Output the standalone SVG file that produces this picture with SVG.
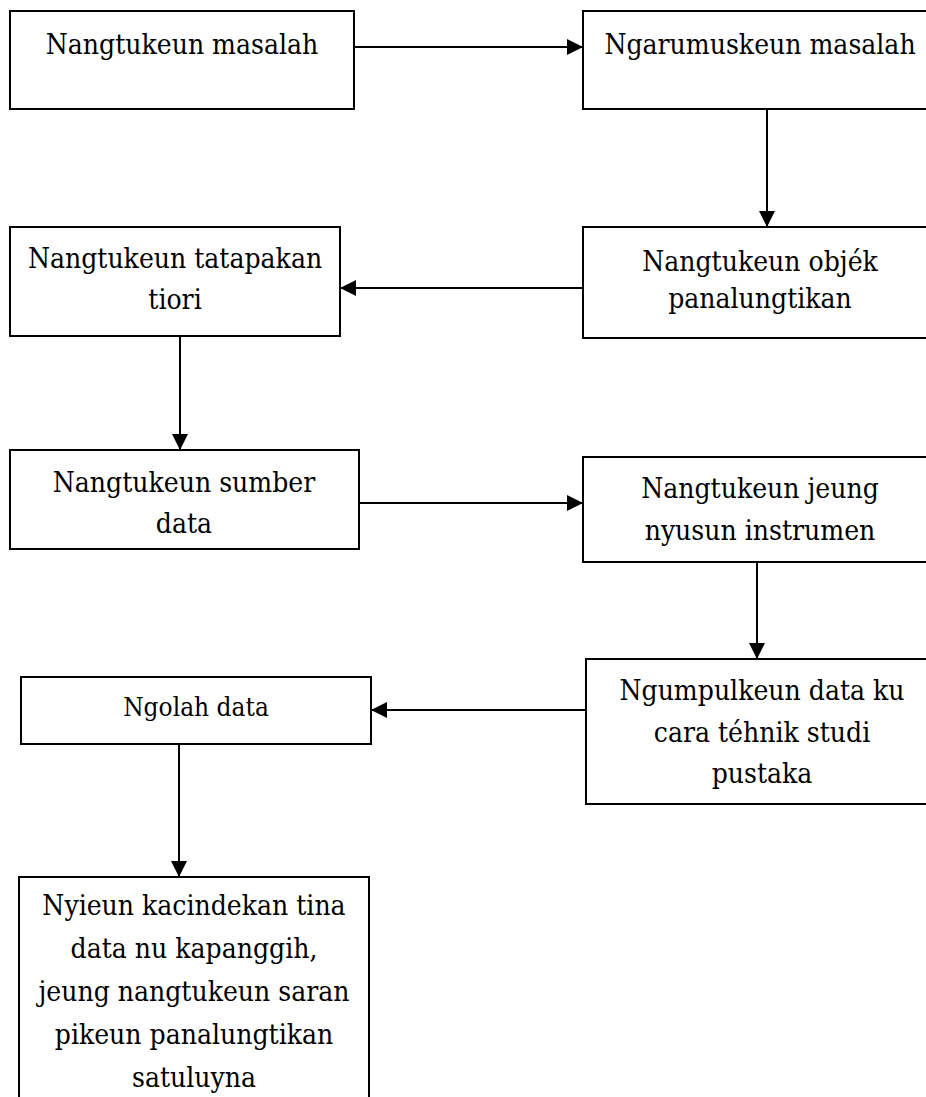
<svg xmlns="http://www.w3.org/2000/svg" width="926" height="1097" viewBox="0 0 926 1097">
<style>
.box{fill:#fff;stroke:#000;stroke-width:2}
text{font-family:'DejaVu Serif',serif;font-stretch:condensed;font-size:28px;fill:#000;text-anchor:middle}
text.s{font-size:26px}
.c{fill:none;stroke:#000;stroke-width:2}
</style>
<defs>
<marker id="ah" markerUnits="userSpaceOnUse" markerWidth="18" markerHeight="18" refX="16" refY="8" orient="auto">
<path d="M0,0 L16,8 L0,16 z" fill="#000"/>
</marker>
</defs>
<rect width="926" height="1097" fill="#fff"/>
<g id="connectors">
<line class="c" x1="354" y1="47" x2="583" y2="47" marker-end="url(#ah)"/>
<line class="c" x1="767" y1="109" x2="767" y2="227" marker-end="url(#ah)"/>
<line class="c" x1="583" y1="288" x2="340" y2="288" marker-end="url(#ah)"/>
<line class="c" x1="180" y1="336" x2="180" y2="450" marker-end="url(#ah)"/>
<line class="c" x1="359" y1="503" x2="583" y2="503" marker-end="url(#ah)"/>
<line class="c" x1="757" y1="562" x2="757" y2="659" marker-end="url(#ah)"/>
<line class="c" x1="586" y1="710" x2="371" y2="710" marker-end="url(#ah)"/>
<line class="c" x1="179" y1="744" x2="179" y2="877" marker-end="url(#ah)"/>
</g>
<g id="n1"><rect class="box" x="10" y="11" width="344" height="98"/><text x="182" y="54">Nangtukeun masalah</text></g>
<g id="n2"><rect class="box" x="583" y="11" width="360" height="98"/><text x="760" y="54">Ngarumuskeun masalah</text></g>
<g id="n3"><rect class="box" x="10" y="227" width="330" height="109"/><text x="175" y="268">Nangtukeun tatapakan</text><text x="175" y="309">tiori</text></g>
<g id="n4"><rect class="box" x="583" y="227" width="360" height="111"/><text x="760" y="271">Nangtukeun objék</text><text x="760" y="308">panalungtikan</text></g>
<g id="n5"><rect class="box" x="10" y="450" width="349" height="99"/><text x="184" y="492">Nangtukeun sumber</text><text x="184" y="533">data</text></g>
<g id="n6"><rect class="box" x="583" y="457" width="360" height="105"/><text x="760" y="498">Nangtukeun jeung</text><text x="760" y="540">nyusun instrumen</text></g>
<g id="n7"><rect class="box" x="586" y="659" width="360" height="145"/><text x="762" y="700">Ngumpulkeun data ku</text><text x="762" y="742">cara téhnik studi</text><text x="762" y="783">pustaka</text></g>
<g id="n8"><rect class="box" x="21" y="677" width="350" height="67"/><text class="s" x="196" y="716">Ngolah data</text></g>
<g id="n9"><rect class="box" x="19" y="877" width="350" height="240"/><text x="194" y="915">Nyieun kacindekan tina</text><text x="194" y="958">data nu kapanggih,</text><text x="194" y="1001">jeung nangtukeun saran</text><text x="194" y="1044">pikeun panalungtikan</text><text x="194" y="1087">satuluyna</text></g>
</svg>
